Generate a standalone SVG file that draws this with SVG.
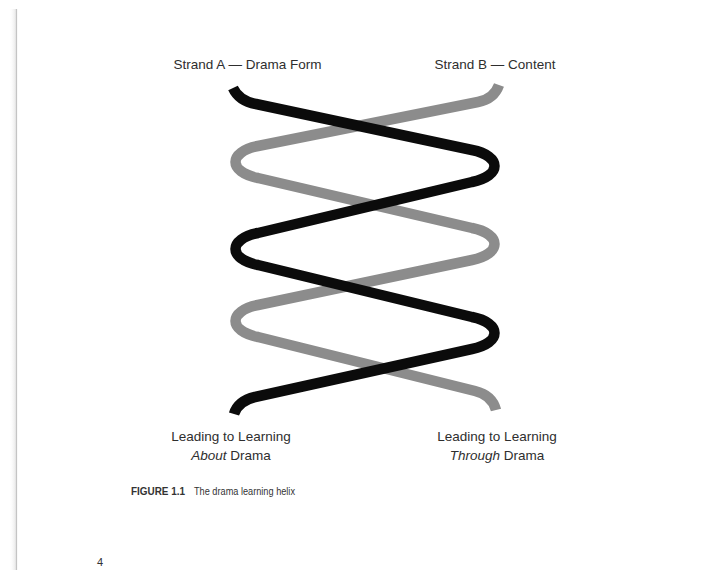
<svg xmlns="http://www.w3.org/2000/svg" width="705" height="570" viewBox="0 0 705 570">
  <defs>
    <linearGradient id="pageEdge" x1="0" y1="0" x2="1" y2="0">
      <stop offset="0" stop-color="#ffffff" stop-opacity="0"/>
      <stop offset="1" stop-color="#e6e6e6"/>
    </linearGradient>
  </defs>
  <style>
    .lbl { font-family: "Liberation Sans", Arial, sans-serif; font-size: 13.5px; fill: #2e2e2e; text-anchor: middle; }
    .it { font-style: italic; }
    .strand { fill: none; stroke-width: 10.5; stroke-linecap: butt; stroke-linejoin: round; }
    .strand-a { stroke: #0b0b0b; }
    .strand-b { stroke: #8c8c8c; }
    .cap { font-family: "Liberation Sans", Arial, sans-serif; fill: #333333; }
  </style>

  <rect width="705" height="570" fill="#ffffff"/>

  <!-- page gutter edge -->
  <rect x="9" y="9" width="7" height="561" fill="url(#pageEdge)"/>
  <line x1="16.5" y1="9" x2="16.5" y2="570" stroke="#c4c4c4" stroke-width="1.2"/>

  <!-- helix strands: B is drawn first so A passes over it at every crossing -->
  <g id="connectors">
    <path id="strand-b" class="strand strand-b"
          d="M 499 85 Q 494 99 478 102 L 258 146 C 228 152 228 172 258 178 L 472 228 C 502 234 502 254 472 260 L 258 305 C 228 311 228 331 258 337 L 475 391 Q 492 395 496 410"/>
    <path id="strand-a" class="strand strand-a"
          d="M 233 88 Q 239 101 256 104 L 472 150 C 502 156 502 176 472 182 L 258 233 C 228 239 228 259 258 265 L 472 317 C 502 323 502 343 472 349 L 255 397 Q 238 401 234 414"/>
  </g>

  <g id="label-strand-a">
    <text class="lbl" x="247.5" y="69">Strand A — Drama Form</text>
  </g>
  <g id="label-strand-b">
    <text class="lbl" x="495" y="69">Strand B — Content</text>
  </g>
  <g id="label-about">
    <text class="lbl" x="231" y="441">Leading to Learning</text>
    <text class="lbl" x="231" y="460"><tspan class="it">About</tspan> Drama</text>
  </g>
  <g id="label-through">
    <text class="lbl" x="497" y="441">Leading to Learning</text>
    <text class="lbl" x="497" y="460"><tspan class="it">Through</tspan> Drama</text>
  </g>

  <!-- caption and folio -->
  <g id="caption">
    <text class="cap" x="131" y="495" font-size="11" font-weight="bold" textLength="54" lengthAdjust="spacingAndGlyphs">FIGURE 1.1</text>
    <text class="cap" x="194" y="495" font-size="10.5" textLength="101" lengthAdjust="spacingAndGlyphs">The drama learning helix</text>
  </g>
  <g id="folio">
    <text class="cap" x="97" y="566" font-size="11">4</text>
  </g>
</svg>
